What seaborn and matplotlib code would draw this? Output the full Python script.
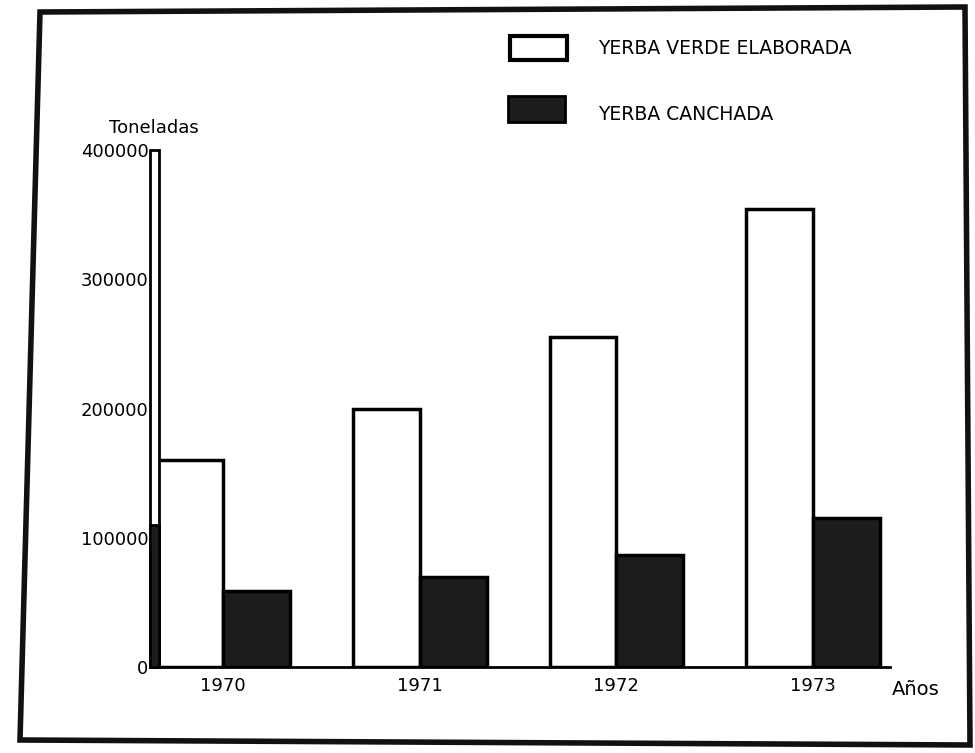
import pandas as pd
import matplotlib.pyplot as plt
import seaborn as sns
from matplotlib.patches import Polygon, Rectangle

# Datos (toneladas)
anios = ["1970", "1971", "1972", "1973"]
verde_elaborada = [160000, 200000, 255000, 354000]
canchada = [59000, 70000, 87000, 115000]
series = ["YERBA VERDE ELABORADA", "YERBA CANCHADA"]
yticks = [0, 100000, 200000, 300000, 400000]

df = pd.DataFrame({
    "Año": anios * 2,
    "Toneladas": verde_elaborada + canchada,
    "Tipo": [series[0]] * 4 + [series[1]] * 4,
})

sns.set_theme(style="white")
plt.rcParams["font.family"] = ["DejaVu Sans"]
plt.rcParams["text.color"] = "black"
plt.rcParams["xtick.color"] = "black"
plt.rcParams["ytick.color"] = "black"

fig = plt.figure(figsize=(9.75, 7.53), dpi=100)
ax = fig.add_axes([150 / 975, 86 / 753, 740 / 975, 517 / 753])

sns.barplot(data=df, x="Año", y="Toneladas", hue="Tipo", ax=ax,
            palette=["white", "#1c1c1c"], edgecolor="black", linewidth=2.5,
            width=0.68, legend=False, saturation=1)

ax.set_xlim(-0.37, 3.39)
ax.set_ylim(0, 400000)
ax.set_yticks(yticks)
ax.set_yticklabels([str(v) for v in yticks], fontsize=13)
ax.tick_params(axis="x", labelsize=13, pad=7, length=0)
ax.tick_params(axis="y", pad=1, length=0)
ax.set_xlabel("")
ax.set_ylabel("")
for s in ["top", "right"]:
    ax.spines[s].set_visible(False)
ax.spines["bottom"].set_linewidth(2)
ax.spines["bottom"].set_color("black")
ax.spines["left"].set_visible(False)

# eje vertical dibujado como columna estrecha
ax.add_patch(Rectangle((-0.37, 0), 0.045, 400000, transform=ax.transData,
                       facecolor="white", edgecolor="black", linewidth=2,
                       clip_on=False, zorder=5))
ax.add_patch(Rectangle((-0.37, 0), 0.045, 110000, transform=ax.transData,
                       facecolor="#1c1c1c", edgecolor="black", linewidth=2,
                       clip_on=False, zorder=6))

ax.text(-0.35, 410000, "Toneladas", ha="center", va="bottom", fontsize=13)
ax.text(3.4, -10000, "Años", ha="left", va="top", fontsize=14)

# leyenda manual
fig.patches.append(Rectangle((510 / 975, 1 - 60 / 753), 57 / 975, 24 / 753,
                             transform=fig.transFigure, facecolor="white",
                             edgecolor="black", linewidth=3))
fig.patches.append(Rectangle((508 / 975, 1 - 122 / 753), 57 / 975, 26 / 753,
                             transform=fig.transFigure, facecolor="#1c1c1c",
                             edgecolor="black", linewidth=2))
fig.text(598 / 975, 1 - 48 / 753, series[0], va="center", fontsize=13.5)
fig.text(598 / 975, 1 - 114 / 753, series[1], va="center", fontsize=13.5)

# marco
marco = Polygon([(40 / 975, 1 - 12 / 753), (965 / 975, 1 - 7 / 753),
                 (970 / 975, 1 - 745 / 753), (20 / 975, 1 - 740 / 753)],
                closed=True, transform=fig.transFigure, fill=False,
                edgecolor="#111111", linewidth=4)
fig.patches.append(marco)

fig.savefig("out.png", dpi=100, facecolor="white")
